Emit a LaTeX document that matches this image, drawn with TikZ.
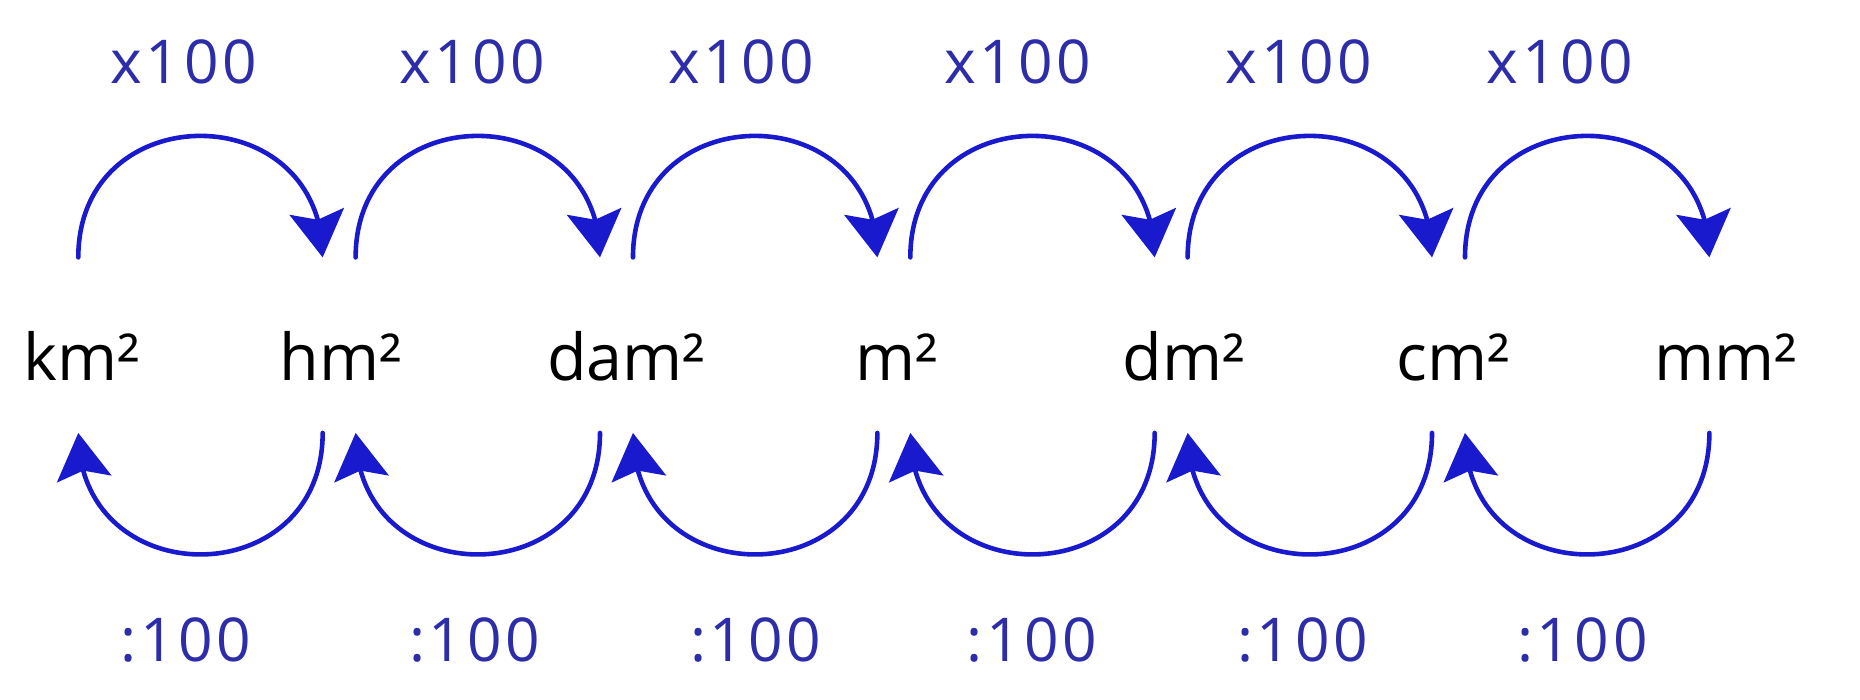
\documentclass[tikz,border=0pt]{standalone}
\usepackage{fontspec}
\setmainfont{Open Sans}
\newfontfamily\ratefont{Open Sans}[LetterSpace=6]
\usetikzlibrary{arrows.meta,bending}
\definecolor{arcblue}{RGB}{25,25,205}
\definecolor{rateblue}{RGB}{45,45,170}
\begin{document}
\begin{tikzpicture}[line join=round, line cap=round,
	>={Stealth[length=3.9mm,width=4.6mm,inset=0.7mm,flex]},
	unit/.style={anchor=base, font=\fontsize{15.5}{18}\selectfont, text=black},
	rate/.style={anchor=base, font=\ratefont\fontsize{14.5}{17}\selectfont, text=rateblue},
	hop/.style={->, draw=arcblue, line width=1.1pt, looseness=1.7}]
	\useasboundingbox (0,0) rectangle (15.68,5.90);
	\path
	(0.69,2.69) node[unit] (km) {km²}
	(2.87,2.69) node[unit] (hm) {hm²}
	(5.28,2.69) node[unit] (dam) {dam²}
	(7.56,2.69) node[unit] (m) {m²}
	(9.98,2.69) node[unit] (dm) {dm²}
	(12.25,2.69) node[unit] (cm) {cm²}
	(14.55,2.69) node[unit] (mm) {mm²}
	;
	\foreach \i in {0,...,5}{
		\path (0.66+2.338*\i,3.73) coordinate (ts\i)
		(2.72+2.338*\i,3.73) coordinate (te\i)
		(2.72+2.338*\i,2.25) coordinate (bs\i)
		(0.66+2.338*\i,2.25) coordinate (be\i);
		\draw[hop] (ts\i) to[out=90,in=90] (te\i);
		\draw[hop] (bs\i) to[out=-90,in=-90] (be\i);
	}
	\foreach \n/\x in {1/1.55,2/3.98,3/6.25,4/8.58,5/10.95,6/13.15}
	\node[rate] (mul\n) at (\x,5.20) {x100};
	\foreach \n/\x in {1/1.57,2/4.00,3/6.37,4/8.70,5/10.98,6/13.34}
	\node[rate] (div\n) at (\x,0.32) {:100};
\end{tikzpicture}
\end{document}
